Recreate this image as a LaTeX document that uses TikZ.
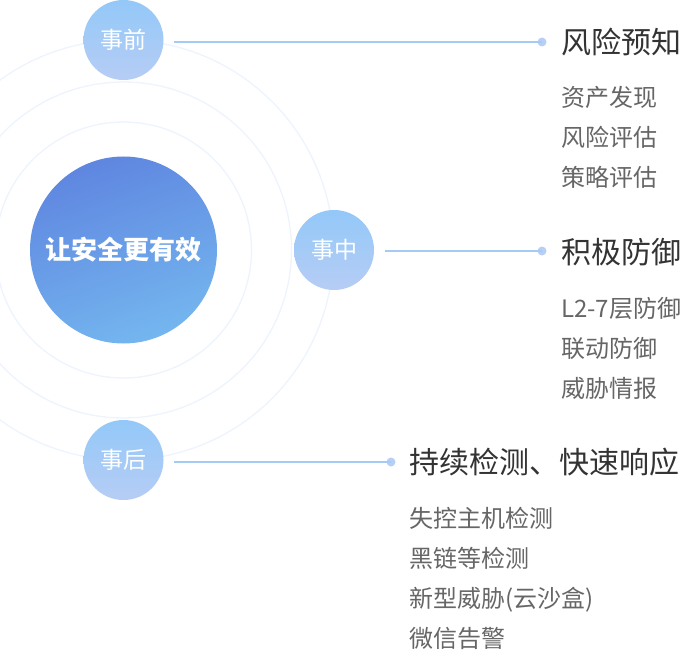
\documentclass[tikz,border=0pt]{standalone}
\usepackage{fontspec}
\setmainfont{Noto Sans CJK SC}
\definecolor{ring}{HTML}{EEF4FD}
\definecolor{bigtop}{HTML}{5F86E0}
\definecolor{bigbot}{HTML}{74B6EF}
\definecolor{smtop}{HTML}{93C8F8}
\definecolor{smbot}{HTML}{B6CDF5}
\definecolor{conncol}{HTML}{A4CAF6}
\definecolor{dotcol}{HTML}{B7CFF5}
\definecolor{headcol}{HTML}{333333}
\definecolor{subcol}{HTML}{666666}
\tikzset{
  x=1pt, y=-1pt,
  ringline/.style={draw=ring, line width=1.3pt},
  bigcirc/.style={circle, minimum size=187pt, inner sep=0pt, shading=axis,
    top color=bigtop, bottom color=bigbot, shading angle=20,
    text=white, font=\fontsize{26pt}{30pt}\selectfont\bfseries},
  phase/.style={circle, minimum size=80pt, inner sep=0pt, shading=axis,
    top color=smtop, bottom color=smbot,
    text=white, font=\fontsize{23pt}{26pt}\selectfont},
  conn/.style={draw=conncol, line width=2pt, shorten >=10.5pt},
  enddot/.style={circle, fill=dotcol, minimum size=9pt, inner sep=0pt},
  head/.style={anchor=base west, inner sep=0pt, text=headcol, font=\fontsize{30pt}{32pt}\selectfont},
  item/.style={anchor=base west, inner sep=0pt, text=subcol, font=\fontsize{24pt}{26pt}\selectfont}
}
\begin{document}
\begin{tikzpicture}
\useasboundingbox (0,0) rectangle (683,650);
\clip (0,0) rectangle (683,650);
\fill[white] (0,0) rectangle (683,650);
\coordinate (c) at (123.5,250);
\draw[ringline] (c) circle[radius=128pt];
\draw[ringline] (c) circle[radius=168pt];
\draw[ringline] (c) circle[radius=210pt];
\node[bigcirc] (core) at (c) {让安全更有效};
\node[phase] (pre) at (123.5,40) {事前};
\node[phase] (mid) at (334,250) {事中};
\node[phase] (post) at (123.5,460) {事后};
\node[enddot] (d1) at (542,42) {};
\node[enddot] (d2) at (542,251) {};
\node[enddot] (d3) at (391,462) {};
\draw[conn] (d1.center) -- (d1 -| pre.east);
\draw[conn] (d2.center) -- (d2 -| mid.east);
\draw[conn] (d3.center) -- (d3 -| post.east);
% group 1
\node[head] (h1) at (561,53.2) {风险预知};
\node[item] (a1) at (561,106.8) {资产发现};
\node[item] (a2) at (561,146.8) {风险评估};
\node[item] (a3) at (561,186.8) {策略评估};
% group 2
\node[head] (h2) at (561,263.2) {积极防御};
\node[item] (b1) at (561,317.2) {L2-7层防御};
\node[item] (b2) at (561,357.2) {联动防御};
\node[item] (b3) at (561,397.2) {威胁情报};
% group 3
\node[head] (h3) at (409,473.2) {持续检测、快速响应};
\node[item] (e1) at (409,527.2) {失控主机检测};
\node[item] (e2) at (409,567.2) {黑链等检测};
\node[item] (e3) at (409,607.2) {新型威胁(云沙盒)};
\node[item] (e4) at (409,647.2) {微信告警};
\end{tikzpicture}
\end{document}
